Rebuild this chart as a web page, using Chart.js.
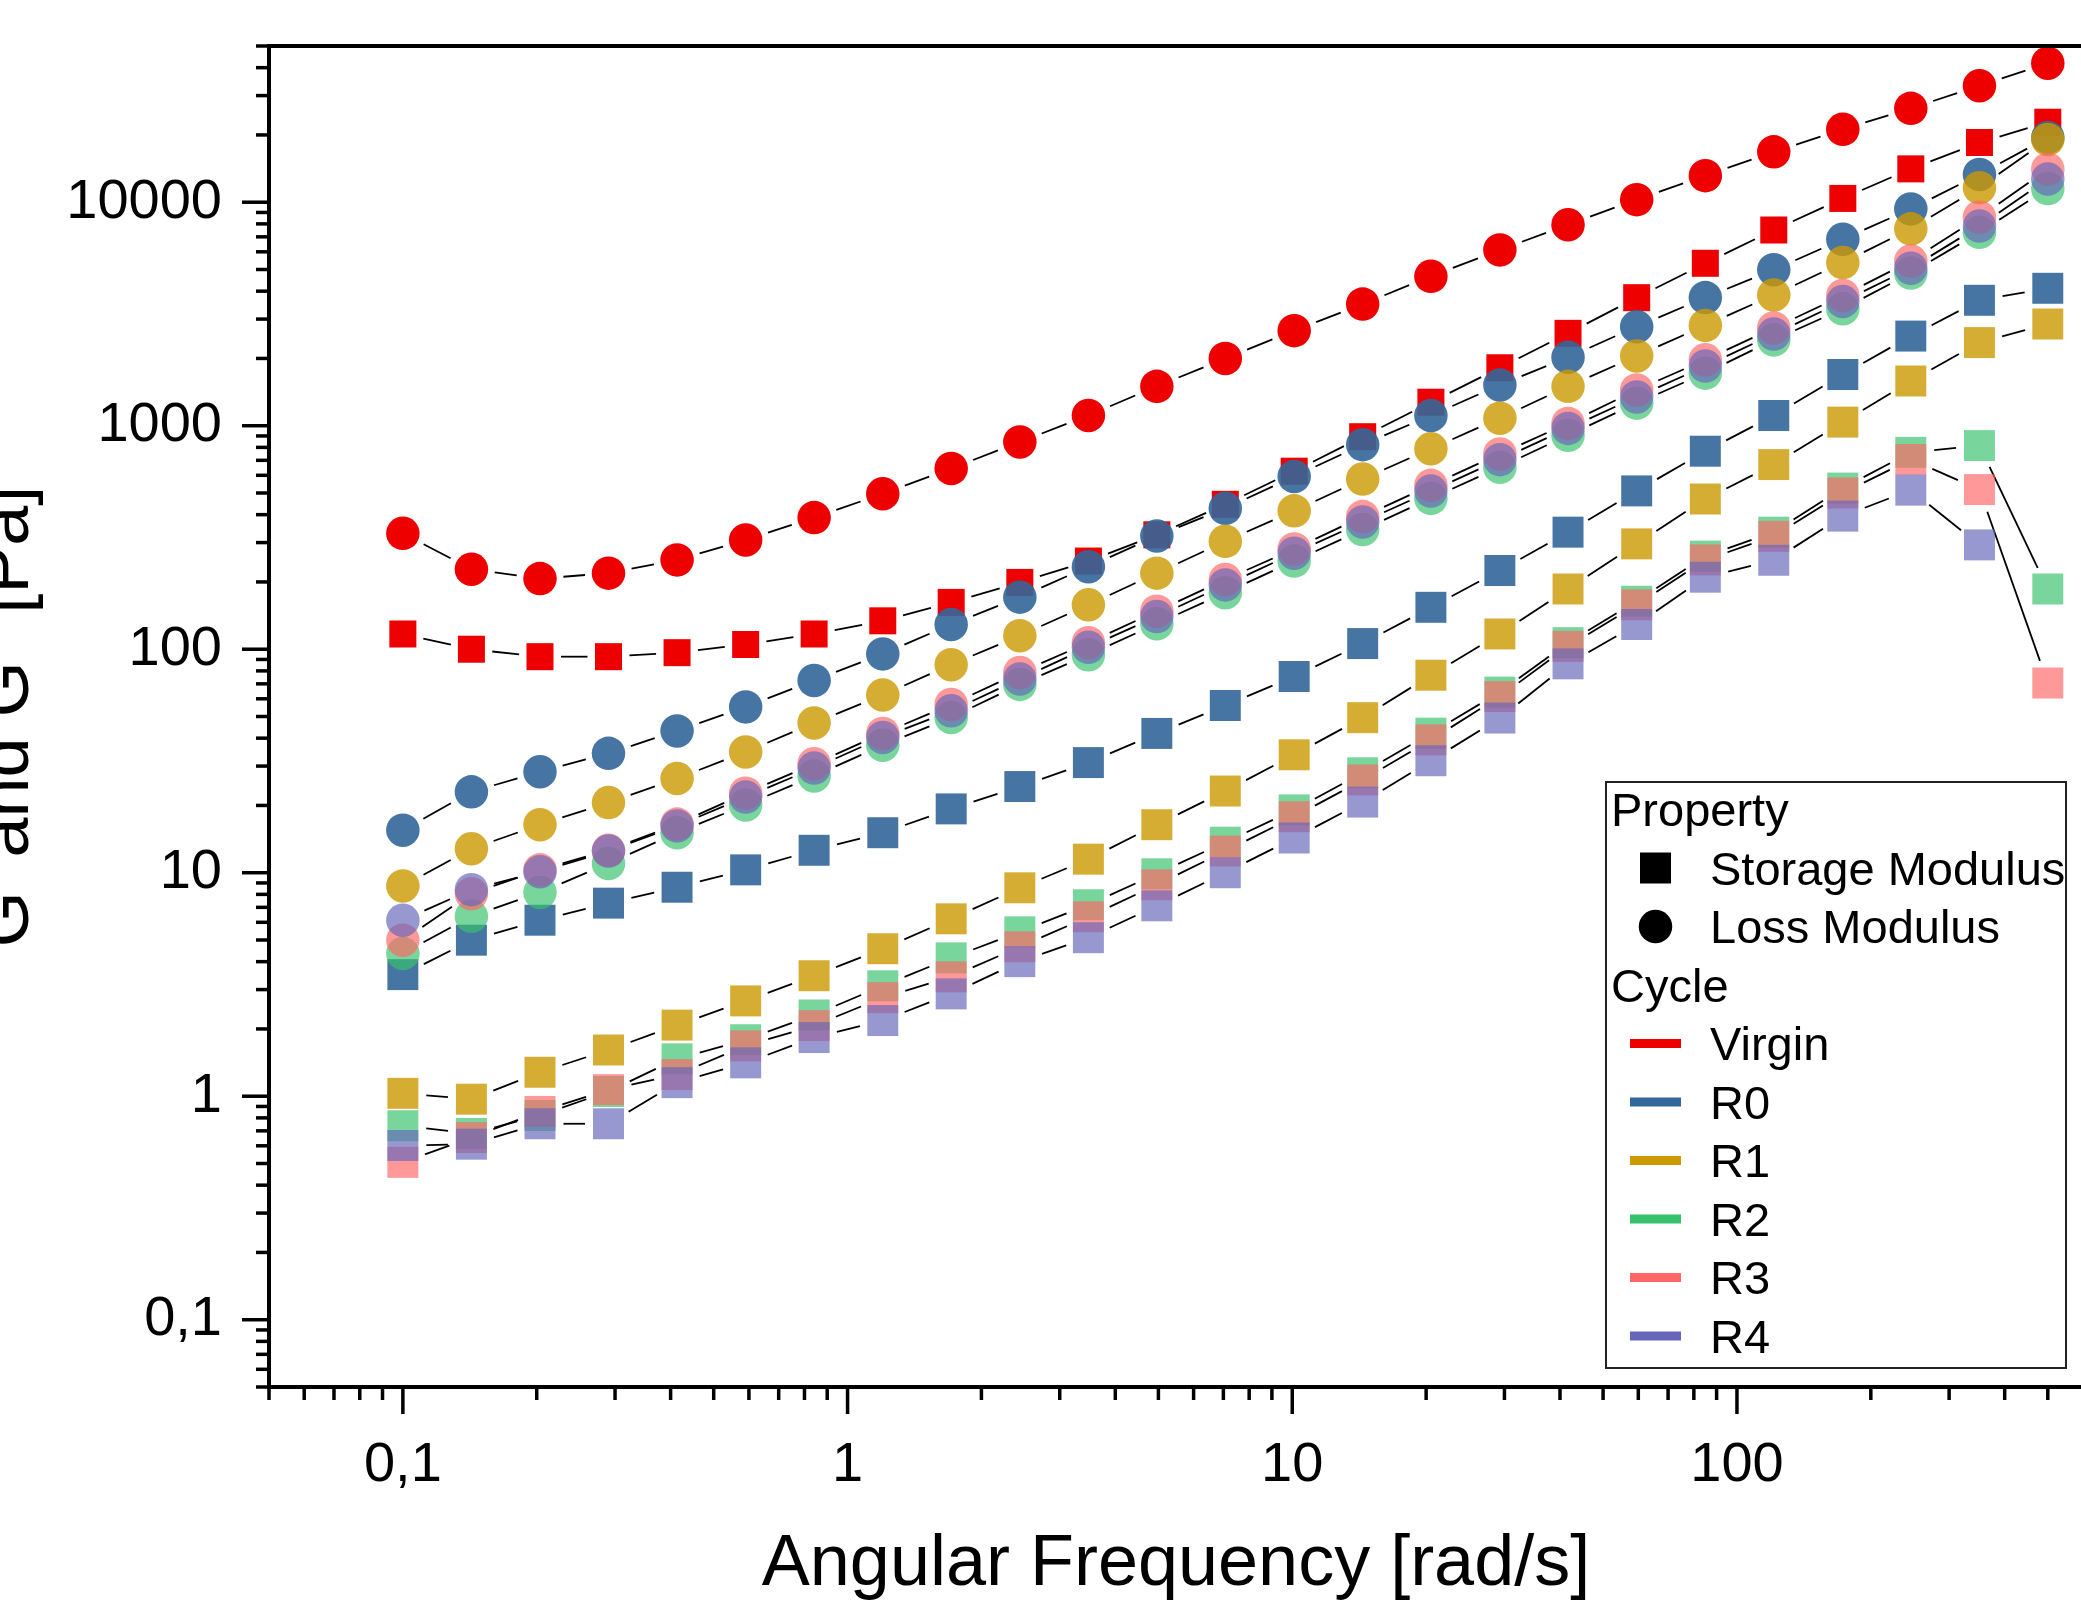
<!DOCTYPE html>
<html>
<head>
<meta charset="utf-8">
<title>Frequency sweep</title>
<script src="https://cdn.jsdelivr.net/npm/chart.js@4.4.0/dist/chart.umd.min.js"></script>
<style>
  html, body { margin: 0; padding: 0; background: #fff; }
  #frame { position: relative; width: 2081px; height: 1600px; overflow: hidden; background: #fff; }
  #wrap { position: absolute; left: -39px; top: 0; width: 2122px; height: 1612px; }
</style>
</head>
<body>
<div id="frame"><div id="wrap"><canvas id="chart"></canvas></div></div>
<script>
// angular frequency [rad/s]
const FREQ = [0.1, 0.1426, 0.2034, 0.29, 0.4136, 0.59, 0.841, 1.2, 1.71, 2.44, 3.48, 4.96, 7.07,
  10.1, 14.4, 20.5, 29.3, 41.7, 59.5, 84.9, 121, 173, 246, 351, 500];

// storage modulus G' [Pa]
const VIRGIN_STORAGE = [117, 100, 92.6, 92.6, 96.5, 105, 117, 134, 162, 199, 248, 325, 445,
  626, 893, 1274, 1817, 2590, 3740, 5330, 7510, 10400, 14100, 18500, 22800];
const R0_STORAGE = [3.5, 4.99, 6.13, 7.31, 8.61, 10.3, 12.6, 15.1, 19.3, 24.3, 31.1, 42, 56,
  75.5, 106, 154, 225, 334, 511, 769, 1111, 1695, 2518, 3641, 4120];
const R1_STORAGE = [1.03, 0.97, 1.28, 1.61, 2.08, 2.67, 3.46, 4.57, 6.22, 8.56, 11.5, 16.4, 23.2,
  33.7, 49.4, 76.5, 117, 186, 296, 470, 670, 1038, 1585, 2355, 2851];
const R2_STORAGE = [0.738, 0.681, 0.82, 1.05, 1.47, 1.79, 2.31, 3.12, 4.16, 5.44, 7.19, 9.89, 13.7,
  19.1, 28, 42.1, 64.3, 107, 164, 261, 334, 526, 760, 815, 186];
const R3_STORAGE = [0.506, 0.653, 0.855, 1.07, 1.25, 1.68, 2.07, 2.76, 3.42, 4.66, 6.35, 8.83, 12.5,
  17.8, 26, 39.3, 61.4, 103, 158, 251, 320, 500, 706, 518, 70.6];
const R4_STORAGE = [0.602, 0.61, 0.753, 0.753, 1.15, 1.41, 1.83, 2.18, 2.87, 4, 5.12, 7.11, 10,
  14.3, 20.7, 31.7, 49.2, 86, 129, 210, 250, 394, 515, 293, null];

// loss modulus G'' [Pa]
const VIRGIN_LOSS = [330, 228, 207, 219, 251, 308, 388, 496, 644, 846, 1112, 1500, 2000,
  2663, 3500, 4660, 6120, 7930, 10270, 13150, 16800, 21200, 26300, 33200, 41900];
const R0_LOSS = [15.5, 23, 28.3, 34.2, 43.1, 55.2, 72.5, 95.3, 129, 171, 234, 321, 427,
  593, 823, 1111, 1521, 2025, 2772, 3743, 4991, 6826, 9336, 13310, 19500];
const R1_LOSS = [8.73, 12.8, 16.4, 20.6, 26.4, 34.7, 46.8, 62.4, 85.3, 115, 158, 219, 304,
  416, 577, 789, 1081, 1500, 2052, 2811, 3846, 5370, 7600, 11620, 19100];
const R2_LOSS = [4.35, 6.38, 8.16, 11, 15.1, 20.1, 27.1, 37.2, 49.5, 69.6, 94.4, 130, 179,
  248, 343, 473, 652, 906, 1262, 1719, 2421, 3334, 4819, 7330, 11510];
const R3_LOSS = [4.99, 8.06, 10.3, 12.6, 16.5, 22.7, 30.7, 42, 56.6, 78.7, 107, 148, 205,
  281, 392, 541, 748, 1024, 1446, 1972, 2738, 3827, 5458, 8570, 14060];
const R4_LOSS = [6.13, 8.4, 10.1, 12.5, 16.2, 21.8, 29.4, 40.3, 53, 73.6, 102, 140, 194,
  269, 371, 510, 705, 973, 1345, 1849, 2570, 3595, 5070, 7820, 12700];

const CYCLES = ['Virgin', 'R0', 'R1', 'R2', 'R3', 'R4'];
const STORAGE = [VIRGIN_STORAGE, R0_STORAGE, R1_STORAGE, R2_STORAGE, R3_STORAGE, R4_STORAGE];
const LOSS = [VIRGIN_LOSS, R0_LOSS, R1_LOSS, R2_LOSS, R3_LOSS, R4_LOSS];
const CYCLE_COLORS = ['#EE0000', '#336699', '#CC9900', '#36C26B', '#FF6666', '#6666BB'];
const MARKER_ALPHA = [1, 0.9, 0.8, 0.67, 0.67, 0.67];
const PROPERTIES = ['Storage Modulus', 'Loss Modulus'];

const X_MAJOR = [0.1, 1, 10, 100];
const X_LABELS = ['0,1', '1', '10', '100'];
const Y_MAJOR = [0.1, 1, 10, 100, 1000, 10000];
const Y_LABELS = ['0,1', '1', '10', '100', '1000', '10000'];
const X_TITLE = 'Angular Frequency [rad/s]';
const Y_TITLE = "G' and G'' [Pa]";

const FONT = '"Liberation Sans", Arial, Helvetica, sans-serif';

function rgba(hex, a) {
  const n = parseInt(hex.slice(1), 16);
  return `rgba(${(n >> 16) & 255}, ${(n >> 8) & 255}, ${n & 255}, ${a})`;
}

function points(values) {
  const out = [];
  values.forEach((v, i) => { if (v !== null) out.push({ x: FREQ[i], y: v }); });
  return out;
}

// 1..9 x decade, kept inside the axis range
function logTicks(min, max) {
  const out = [];
  for (let e = -3; e <= 5; e++) {
    for (let k = 1; k <= 9; k++) {
      const v = k * Math.pow(10, e);
      if (v >= min * 0.999 && v <= max * 1.001) out.push(v);
    }
  }
  return out;
}

function majorIndex(v, majors) {
  return majors.findIndex(m => Math.abs(v - m) / m < 1e-6);
}

const datasets = [];
CYCLES.forEach((name, c) => {
  const color = rgba(CYCLE_COLORS[c], MARKER_ALPHA[c]);
  datasets.push({
    label: name + ' ' + PROPERTIES[0],
    data: points(STORAGE[c]),
    pointStyle: 'rect',
    pointRadius: c === 0 ? 19.1 : 21.9,
    pointBackgroundColor: color,
    pointBorderWidth: 0,
    lineGap: c === 0 ? 21 : 23.5,
    order: 100 - c * 2
  });
  datasets.push({
    label: name + ' ' + PROPERTIES[1],
    data: points(LOSS[c]),
    pointStyle: 'circle',
    pointRadius: 16.75,
    pointBackgroundColor: color,
    pointBorderWidth: 0,
    lineGap: 23.5,
    order: 99 - c * 2
  });
});

// thin black connectors that stop short of the markers
const gappedLines = {
  id: 'gappedLines',
  beforeDatasetsDraw(chart) {
    const ctx = chart.ctx;
    ctx.save();
    ctx.strokeStyle = '#000';
    ctx.lineWidth = 1.8;
    chart.data.datasets.forEach((ds, i) => {
      const pts = chart.getDatasetMeta(i).data;
      for (let k = 1; k < pts.length; k++) {
        const p = pts[k - 1], q = pts[k];
        if (p.skip || q.skip) continue;
        const dx = q.x - p.x, dy = q.y - p.y;
        const len = Math.hypot(dx, dy);
        const g = ds.lineGap;
        if (len <= 2 * g) continue;
        const ux = dx / len, uy = dy / len;
        ctx.beginPath();
        ctx.moveTo(p.x + ux * g, p.y + uy * g);
        ctx.lineTo(q.x - ux * g, q.y - uy * g);
        ctx.stroke();
      }
    });
    ctx.restore();
  }
};

// axis lines and outward ticks (long at decades, short in between)
const axesFrame = {
  id: 'axesFrame',
  afterDatasetsDraw(chart) {
    const { ctx, chartArea: a, scales: { x, y } } = chart;
    ctx.save();
    ctx.strokeStyle = '#000';
    ctx.lineWidth = 3.5;
    y.ticks.forEach(t => {
      const py = y.getPixelForValue(t.value);
      const len = majorIndex(t.value, Y_MAJOR) >= 0 ? 27 : 13;
      ctx.beginPath(); ctx.moveTo(a.left, py); ctx.lineTo(a.left - len, py); ctx.stroke();
    });
    x.ticks.forEach(t => {
      const px = x.getPixelForValue(t.value);
      const len = majorIndex(t.value, X_MAJOR) >= 0 ? 27 : 13;
      ctx.beginPath(); ctx.moveTo(px, a.bottom); ctx.lineTo(px, a.bottom + len); ctx.stroke();
    });
    ctx.lineWidth = 4;
    ctx.beginPath();
    ctx.moveTo(a.right + 2, a.top);
    ctx.lineTo(a.left, a.top);
    ctx.lineTo(a.left, a.bottom);
    ctx.lineTo(a.right + 2, a.bottom);
    ctx.stroke();
    ctx.restore();
  }
};

// two-part legend: marker shape for the property, colour for the cycle
const legendBox = {
  id: 'legendBox',
  afterDraw(chart) {
    const { ctx, chartArea: a } = chart;
    const left = a.right - 477, top = a.bottom - 605, w = 460, h = 586;
    const step = 58.5;
    ctx.save();
    ctx.lineWidth = 2;
    ctx.strokeStyle = '#222';
    ctx.strokeRect(left, top, w, h);
    ctx.font = '47px ' + FONT;
    ctx.textAlign = 'left';
    ctx.textBaseline = 'alphabetic';
    ctx.fillStyle = '#000';
    let base = top + 44;
    ctx.fillText('Property', left + 5, base);
    PROPERTIES.forEach((name, k) => {
      base += step;
      const cx = left + 49.5, cy = base - 16.5;
      ctx.beginPath();
      if (k === 0) ctx.rect(cx - 15.5, cy - 15.5, 31, 31);
      else ctx.arc(cx, cy, 16.75, 0, Math.PI * 2);
      ctx.fill();
      ctx.fillText(name, left + 104, base);
    });
    base += step;
    ctx.fillText('Cycle', left + 5, base);
    CYCLES.forEach((name, k) => {
      base += step;
      ctx.fillStyle = CYCLE_COLORS[k];
      ctx.fillRect(left + 24, base - 21, 51, 9);
      ctx.fillStyle = '#000';
      ctx.fillText(name, left + 104, base);
    });
    ctx.restore();
  }
};

new Chart(document.getElementById('chart'), {
  type: 'scatter',
  data: { datasets },
  options: {
    responsive: true,
    maintainAspectRatio: false,
    animation: false,
    events: [],
    layout: { autoPadding: false, padding: { top: 46, right: 0, bottom: 0, left: 0 } },
    plugins: { legend: { display: false }, tooltip: { enabled: false } },
    scales: {
      x: {
        type: 'logarithmic',
        position: 'bottom',
        min: 0.05,
        max: 600,
        afterBuildTicks: s => { s.ticks = logTicks(s.min, s.max).map(v => ({ value: v })); },
        afterFit: s => { s.height = 225; s.paddingLeft = 0; s.paddingRight = 0; },
        grid: { display: false, drawTicks: false, tickLength: 0 },
        border: { display: false },
        ticks: {
          autoSkip: false, maxRotation: 0, minRotation: 0, padding: 45, color: '#000',
          font: { family: FONT, size: 56 },
          callback: v => { const i = majorIndex(v, X_MAJOR); return i >= 0 ? X_LABELS[i] : ''; }
        },
        title: {
          display: true, text: X_TITLE, color: '#000',
          font: { family: FONT, size: 72 }, padding: { top: 0, bottom: 4 }
        }
      },
      y: {
        type: 'logarithmic',
        position: 'left',
        min: 0.05,
        max: 50000,
        afterBuildTicks: s => { s.ticks = logTicks(s.min, s.max).map(v => ({ value: v })); },
        afterFit: s => { s.width = 308; s.paddingTop = 0; s.paddingBottom = 0; },
        grid: { display: false, drawTicks: false, tickLength: 0 },
        border: { display: false },
        ticks: {
          autoSkip: false, padding: 47, color: '#000',
          font: { family: FONT, size: 56 },
          callback: v => { const i = majorIndex(v, Y_MAJOR); return i >= 0 ? Y_LABELS[i] : ''; }
        },
        title: {
          display: true, text: Y_TITLE, color: '#000',
          font: { family: FONT, size: 72 }, padding: { top: 4, bottom: 0 }
        }
      }
    }
  },
  plugins: [gappedLines, axesFrame, legendBox]
});
</script>
</body>
</html>
